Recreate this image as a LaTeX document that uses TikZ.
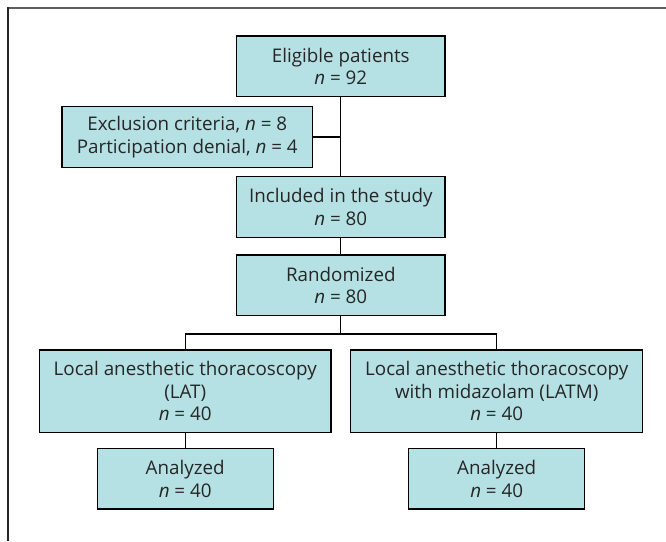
\documentclass[tikz,border=0pt]{standalone}
\usepackage{fontspec}
\setmainfont{Open Sans}
\definecolor{boxfill}{HTML}{B5E1E4}
\definecolor{framegray}{HTML}{5E5E5E}
\begin{document}
\begin{tikzpicture}[x=1pt,y=-1pt,
  flowbox/.style={draw=black,fill=boxfill,line width=1.2pt,align=center,inner sep=0pt,
    font=\fontsize{18.8}{22.7}\selectfont,text=black!85},
  conn/.style={draw=black,line width=1.2pt}]
\useasboundingbox (0,0) rectangle (666,541);
\fill[white] (0,0) rectangle (666,541);
% frame
\draw[framegray,line width=2pt] (666,8) -- (8,8);
\draw[black!85,line width=1.5pt] (8,7) -- (8,541);
% nodes
\node[flowbox,minimum width=208.3pt,minimum height=60.7pt] (elig) at (340.8,66.3) {Eligible patients\\\textit{n} = 92};
\node[flowbox,minimum width=250.7pt,minimum height=60.6pt] (excl) at (187.3,137) {Exclusion criteria, \textit{n} = 8\\Participation denial, \textit{n} = 4};
\node[flowbox,minimum width=208.3pt,minimum height=60.6pt] (incl) at (340.8,207) {Included in the study\\\textit{n} = 80};
\node[flowbox,minimum width=208.3pt,minimum height=60.6pt] (rand) at (340.8,285.3) {Randomized\\\textit{n} = 80};
\node[flowbox,minimum width=291.7pt,minimum height=82.3pt] (lat) at (185.2,391.2) {Local anesthetic thoracoscopy\\(LAT)\\\textit{n} = 40};
\node[flowbox,minimum width=291.7pt,minimum height=82.3pt] (latm) at (496.7,391.2) {Local anesthetic thoracoscopy\\with midazolam (LATM)\\\textit{n} = 40};
\node[flowbox,minimum width=176pt,minimum height=60.6pt] (anal) at (185.2,478.7) {Analyzed\\\textit{n} = 40};
\node[flowbox,minimum width=176pt,minimum height=60.6pt] (anar) at (496.7,478.7) {Analyzed\\\textit{n} = 40};
% connectors
\coordinate (split) at (340.8,334);
\draw[conn] (elig.south) -- (incl.north);
\draw[conn] (excl.east) -- (excl.east -| elig.south);
\draw[conn] (incl.south) -- (rand.north);
\draw[conn] (rand.south) -- (split);
\draw[conn] (lat.north) |- (split) -| (latm.north);
\draw[conn] (lat.south) -- (anal.north);
\draw[conn] (latm.south) -- (anar.north);
\end{tikzpicture}
\end{document}
